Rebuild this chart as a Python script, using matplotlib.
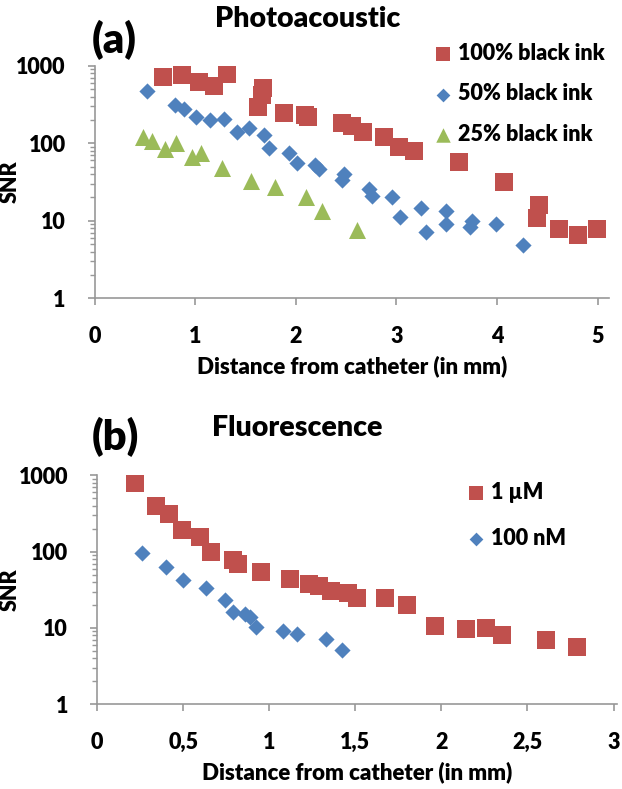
import matplotlib
matplotlib.use("Agg")
import matplotlib.pyplot as plt
from matplotlib.ticker import LogLocator, FixedLocator, NullFormatter

WEIGHT = 'heavy'
plt.rcParams['font.family'] = ['Lato', 'DejaVu Sans']
plt.rcParams['font.weight'] = WEIGHT
plt.rcParams['axes.labelweight'] = WEIGHT

# ---- Panel (a): Photoacoustic ----
ink100_x = [0.68, 0.87, 1.04, 1.19, 1.31, 1.62, 1.66, 1.67, 1.88, 2.09, 2.12, 2.46, 2.56,
            2.67, 2.88, 3.03, 3.17, 3.62, 4.07, 4.40, 4.42, 4.62, 4.81, 4.99]
ink100_y = [711, 767, 623, 544, 784, 297, 420, 512, 248, 232, 220, 184, 167,
            141, 119, 89, 80, 58, 31.7, 10.8, 16, 7.8, 6.6, 7.8]

ink50_x = [0.52, 0.80, 0.89, 1.01, 1.15, 1.28, 1.41, 1.53, 1.68, 1.73, 1.93, 2.01, 2.19, 2.23,
           2.46, 2.48, 2.73, 2.76, 2.96, 3.04, 3.24, 3.29, 3.49, 3.49, 3.73, 3.75, 3.99, 4.26]
ink50_y = [469, 312, 280, 216, 200, 206, 139, 158, 127, 86, 75, 55, 52.5, 46,
           34, 40, 25.5, 21, 20.5, 11.3, 14.5, 7.2, 13.5, 9.1, 8.4, 9.9, 9.1, 4.9]

ink25_x = [0.48, 0.57, 0.70, 0.81, 0.97, 1.06, 1.27, 1.55, 1.79, 2.10, 2.26, 2.61]
ink25_y = [119, 108, 85, 102, 66, 74, 47.5, 33, 27.5, 20.5, 13.5, 7.5]

# ---- Panel (b): Fluorescence ----
um1_x = [0.22, 0.34, 0.42, 0.49, 0.60, 0.66, 0.79, 0.82, 0.95, 1.12, 1.23, 1.29, 1.36, 1.46,
         1.51, 1.67, 1.80, 1.96, 2.14, 2.26, 2.35, 2.61, 2.79]
um1_y = [800, 400, 312, 190, 155, 100, 78, 68, 54, 44, 38, 35, 31, 29,
         25, 25, 20.3, 10.7, 9.8, 9.9, 8.2, 7.0, 5.7]

nm100_x = [0.26, 0.40, 0.50, 0.63, 0.74, 0.79, 0.86, 0.89, 0.92, 1.08, 1.16, 1.33, 1.42]
nm100_y = [97, 63, 43, 33, 23, 16, 15.3, 13.8, 10.2, 9.2, 8.3, 7.2, 5.2]

a_xticks = [0, 1, 2, 3, 4, 5]
a_xticklabels = ['0', '1', '2', '3', '4', '5']
b_xticks = [0, 0.5, 1, 1.5, 2, 2.5, 3]
b_xticklabels = ['0', '0,5', '1', '1,5', '2', '2,5', '3']
yticks = [1, 10, 100, 1000]
yticklabels = ['1', '10', '100', '1000']

RED = '#C0504D'
BLUE = '#4F81BD'
GREEN = '#9BBB59'
AXC = '#989898'

W, H = 622, 789
fig = plt.figure(figsize=(W / 100, H / 100), dpi=100)


def px_axes(left, right, top, bottom):
    return fig.add_axes([left / W, 1 - bottom / H, (right - left) / W, (bottom - top) / H])


def style(ax, xmax, xticks, xticklabels, left, right):
    ax.set_yscale('log')
    ax.set_ylim(1, 1000)
    ax.set_xlim(0, xmax)
    for s in ['top', 'right']:
        ax.spines[s].set_visible(False)
    for s in ['left', 'bottom']:
        ax.spines[s].set_color(AXC)
        ax.spines[s].set_linewidth(1.2)
    ax.yaxis.set_major_locator(FixedLocator(yticks))
    ax.set_yticklabels(yticklabels)
    ax.yaxis.set_minor_locator(LogLocator(base=10, subs=range(2, 10)))
    ax.yaxis.set_minor_formatter(NullFormatter())
    ax.set_xticks(xticks)
    ax.set_xticklabels(xticklabels)
    ax.tick_params(axis='both', which='major', color=AXC, width=1.2, length=5,
                   labelsize=15.5, pad=16)
    ax.tick_params(axis='y', which='minor', color=AXC, width=1.0, length=3.5)
    ax.tick_params(axis='x', which='major', pad=15)
    ax.set_ylabel('SNR', fontsize=15.5, fontweight=WEIGHT)
    ax.yaxis.set_label_coords((21 - left) / (right - left), 0.5)
    ax.set_xlabel('Distance from catheter (in mm)', fontsize=16, fontweight=WEIGHT, labelpad=6)
    ax.patch.set_alpha(0)


# Panel (a)
axa = px_axes(94.8, 608.6, 65.7, 298.3)
axa.scatter(ink100_x, ink100_y, marker='s', s=150, color=RED, linewidths=0, label='100% black ink', zorder=3)
axa.scatter(ink50_x, ink50_y, marker='D', s=68, color=BLUE, linewidths=0, label='50% black ink', zorder=3)
axa.scatter(ink25_x, ink25_y, marker='^', s=150, color=GREEN, linewidths=0, label='25% black ink', zorder=3)
style(axa, 5.11, a_xticks, a_xticklabels, 94.8, 608.6)
axa.legend(loc='upper left', bbox_to_anchor=(430 / W, 1 - 43 / H), bbox_transform=fig.transFigure,
           frameon=False, fontsize=15.5, handletextpad=0.1, labelspacing=0.9,
           markerscale=0.85, handlelength=1.2, borderpad=0, borderaxespad=0)

# Panel (b)
axb = px_axes(97.2, 617.0, 475.4, 704.3)
axb.scatter(um1_x, um1_y, marker='s', s=150, color=RED, linewidths=0, label='1 µM', zorder=3)
axb.scatter(nm100_x, nm100_y, marker='D', s=68, color=BLUE, linewidths=0, label='100 nM', zorder=3)
style(axb, 3.02, b_xticks, b_xticklabels, 97.2, 617.0)
axb.legend(loc='upper left', bbox_to_anchor=(463 / W, 1 - 482 / H), bbox_transform=fig.transFigure,
           frameon=False, fontsize=15.5, handletextpad=0.1, labelspacing=1.15,
           markerscale=0.85, handlelength=1.2, borderpad=0, borderaxespad=0)

# Titles and panel labels
fig.text(308 / W, 1 - 19 / H, 'Photoacoustic', ha='center', va='center', fontsize=20.5, fontweight=WEIGHT)
fig.text(114 / W, 1 - 40 / H, '(a)', ha='center', va='center', fontsize=30, fontweight=WEIGHT)
fig.text(297 / W, 1 - 428 / H, 'Fluorescence', ha='center', va='center', fontsize=20.5, fontweight=WEIGHT)
fig.text(115 / W, 1 - 437 / H, '(b)', ha='center', va='center', fontsize=30, fontweight=WEIGHT)

fig.savefig('out.png', dpi=100)
